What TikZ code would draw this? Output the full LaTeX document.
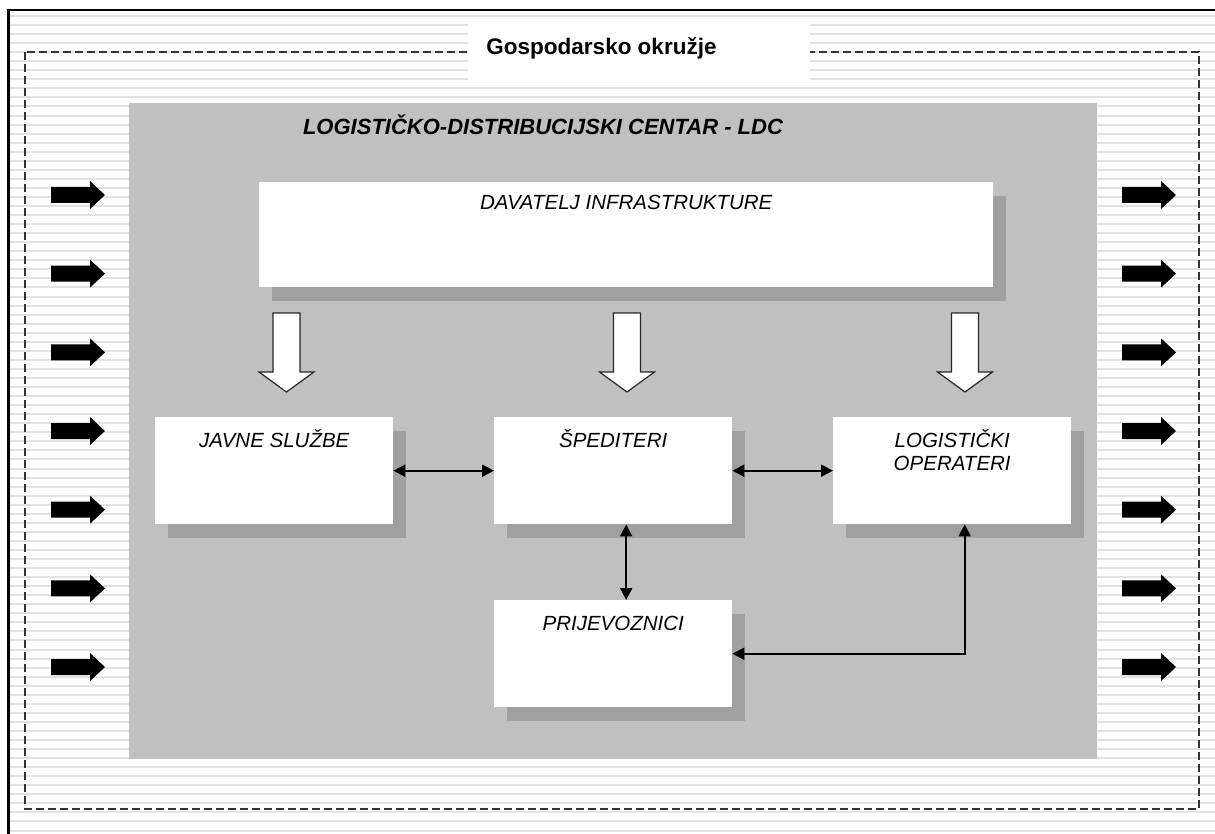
\documentclass[tikz,border=0pt]{standalone}
\usepackage{fontspec}
\setmainfont{Liberation Sans}
\usetikzlibrary{shadows,arrows.meta,calc}
\definecolor{ldcgray}{HTML}{C0C0C0}
\definecolor{shadowgray}{HTML}{A0A0A0}
\definecolor{stripegray}{HTML}{E2E2E2}
\definecolor{dashgray}{HTML}{333333}
\begin{document}
\begin{tikzpicture}[x=1pt,y=-1pt,
  bx/.style={fill=white, draw=none, anchor=north west, inner sep=0pt,
    minimum width=238pt, minimum height=107pt,
    general shadow={fill=shadowgray, shadow xshift=13pt, shadow yshift=-14pt}},
  lbl/.style={font=\itshape\fontsize{20.5}{23}\selectfont, anchor=base, inner sep=0pt, align=center},
  conn/.style={{Triangle[length=12pt,width=12pt]}-{Triangle[length=12pt,width=12pt]}, line width=2pt, black},
  stripe/.style={stripegray, line width=2pt},
  hollow/.style={draw=black!85, line width=1.2pt, fill=white},
  block/.style={fill=black}
]
\useasboundingbox (0,0) rectangle (1215,834);
\fill[white] (0,0) rectangle (1215,834);
% striped environment
\begin{scope}
  \clip (9,10) rectangle (1215,834);
  \foreach \i in {0,...,92} \draw[stripe] (9,16+9.05*\i) -- (1215,16+9.05*\i);
\end{scope}
\draw[line width=2.5pt] (8.5,840) -- (8.5,10) -- (1220,10);
% dashed boundary
\draw[dashgray, line width=1.5pt, dash pattern=on 8pt off 4pt] (25,52) rectangle (1199,809);
\fill[white] (468,17) rectangle (810,80);
\node[font=\bfseries\fontsize{22.5}{26}\selectfont, anchor=base, inner sep=0pt] (env) at (601.5,55) {Gospodarsko okružje};
% LDC area
\fill[ldcgray] (129,103) rectangle (1097,759);
\node[font=\bfseries\itshape\fontsize{22}{26}\selectfont, anchor=base, inner sep=0pt] (ldc) at (543,135) {LOGISTIČKO-DISTRIBUCIJSKI CENTAR - LDC};
% boxes
\node[bx, minimum width=734pt, minimum height=105pt] (dav) at (259,182) {};
\node[lbl] at ($(dav.north)+(0,28)$) {DAVATELJ INFRASTRUKTURE};
\node[bx] (javne) at (155,417) {};
\node[lbl] at ($(javne.north)+(0,30)$) {JAVNE SLUŽBE};
\node[bx] (sped) at (494,417) {};
\node[lbl] at ($(sped.north)+(0,30)$) {ŠPEDITERI};
\node[bx] (logop) at (833,417) {};
\node[lbl] at ($(logop.north)+(0,53)$) {LOGISTIČKI\\OPERATERI};
\node[bx] (prij) at (494,600) {};
\node[lbl] at ($(prij.north)+(0,30)$) {PRIJEVOZNICI};
% hollow arrows
\foreach \cx in {286.5,627,965}
  \draw[hollow] (\cx-13.5,313) -- (\cx+13.5,313) -- (\cx+13.5,372) -- (\cx+27.5,372)
    -- (\cx,392) -- (\cx-27.5,372) -- (\cx-13.5,372) -- cycle;
% connectors
\draw[conn] (javne.east) -- (sped.west);
\draw[conn] (sped.east) -- (logop.west);
\draw[conn] ([xshift=13pt]sped.south) -- ([xshift=13pt]sped.south |- prij.north);
\draw[conn] (prij.east) -| ([xshift=12.5pt]logop.south);
% block arrows
\foreach \k in {0,...,6}{
  \pgfmathsetmacro\yy{195+78.67*\k}
  \foreach \xx in {51,1122}{
    \fill[block] (\xx,\yy-8) -- (\xx+39,\yy-8) -- (\xx+39,\yy-14) -- (\xx+54,\yy)
      -- (\xx+39,\yy+14) -- (\xx+39,\yy+8) -- (\xx,\yy+8) -- cycle;
  }
}
\end{tikzpicture}
\end{document}
